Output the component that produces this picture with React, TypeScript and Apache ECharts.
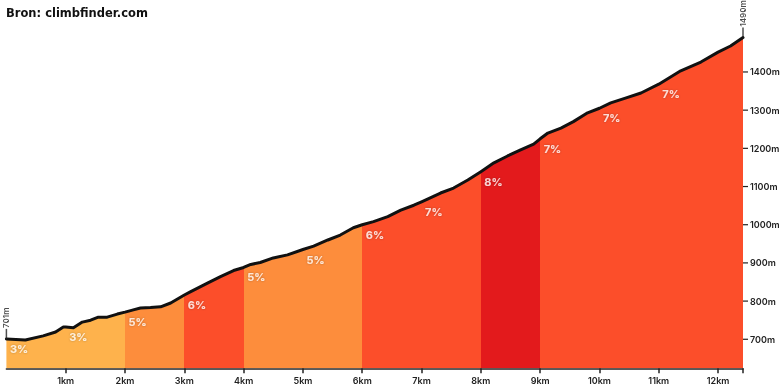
import React, { useEffect, useRef } from "react";
import * as echarts from "echarts";

const titleText = "Bron: climbfinder.com";

const distKm = [
  0, 0.32, 0.62, 0.83, 0.96, 1.0, 1.13, 1.28, 1.42, 1.55, 1.7, 1.87, 2.0, 2.14, 2.26, 2.43, 2.6, 2.77,
  3.0, 3.1, 3.39, 3.61, 3.83, 4.0, 4.12, 4.28, 4.5, 4.74, 5.0, 5.18, 5.42, 5.63, 5.85, 6.0, 6.19, 6.43,
  6.65, 6.87, 7.0, 7.32, 7.54, 7.78, 8.0, 8.22, 8.45, 8.67, 8.89, 9.0, 9.13, 9.35, 9.56, 9.8, 10.0,
  10.19, 10.45, 10.7, 11.0, 11.37, 11.71, 12.0, 12.21, 12.42,
];
const elevM = [
  701, 698, 709, 719, 732, 732, 730, 745, 750, 758, 758, 766, 771, 777, 782, 783, 785, 795,
  816, 824, 847, 864, 880, 888, 896, 901, 913, 921, 935, 944, 960, 973, 992, 1000, 1008, 1021,
  1038, 1051, 1060, 1083, 1096, 1117, 1139, 1162, 1180, 1196, 1211, 1225, 1240, 1253, 1270, 1293, 1305,
  1319, 1332, 1345, 1368, 1403, 1426, 1452, 1468, 1490,
];
const gradePct = [3, 3, 5, 6, 5, 5, 6, 7, 8, 7, 7, 7];
const kmTicks = [1, 2, 3, 4, 5, 6, 7, 8, 9, 10, 11, 12];
const elevTicks = [700, 800, 900, 1000, 1100, 1200, 1300, 1400];

function gradeColor(g: number) {
  if (g <= 3) return "#FEB24C";
  if (g <= 5) return "#FD8D3C";
  if (g <= 7) return "#FC4E2A";
  return "#E31A1C";
}

export default function App() {
  const ref = useRef<HTMLDivElement>(null);
  useEffect(() => {
    document.body.style.margin = "0";
    const chart = echarts.init(ref.current!, null, { renderer: "svg" });
    const totalKm = distKm[distKm.length - 1];
    const yMin = 624;
    const yMax = elevM[elevM.length - 1];
    const profile = distKm.map((d, i) => [d, elevM[i]]);
    const elevAt = (km: number) => {
      const idx = distKm.indexOf(km);
      return elevM[idx];
    };
    const pieces = gradePct.map((g, i) =>
      i === gradePct.length - 1
        ? { gte: i, lte: totalKm, color: gradeColor(g) }
        : { gte: i, lt: i + 1, color: gradeColor(g) }
    );
    const font = "Inter, 'Open Sans', sans-serif";
    chart.setOption({
      animation: false,
      title: {
        text: titleText,
        left: 1,
        top: 2,
        textStyle: { fontFamily: "'DejaVu Sans', Verdana, sans-serif", fontWeight: "bold", fontSize: 11.5, color: "#111" },
      },
      grid: { left: 6.4, right: 37, top: 37.6, bottom: 21.7, outerBoundsMode: "none", containLabel: false },
      visualMap: {
        type: "piecewise",
        show: false,
        dimension: 0,
        seriesIndex: 0,
        pieces,
      },
      xAxis: {
        type: "value",
        min: 0,
        max: totalKm,
        interval: 1,
        splitLine: { show: false },
        axisLine: { show: true, lineStyle: { color: "#222", width: 1.5 } },
        axisTick: { show: true, length: 5, lineStyle: { color: "#222", width: 1.5 }, customValues: [...kmTicks, totalKm] },
        axisLabel: {
          customValues: kmTicks,
          formatter: (v: number) => `${v}km`,
          fontFamily: font,
          fontSize: 9,
          fontWeight: 600,
          color: "#222",
          margin: 8,
        },
      },
      yAxis: {
        type: "value",
        position: "right",
        min: yMin,
        max: yMax,
        splitLine: { show: false },
        axisLine: { show: false },
        axisTick: { show: false },
        axisLabel: {
          customValues: elevTicks,
          formatter: (v: number) => `${v}m`,
          fontFamily: font,
          fontSize: 9,
          fontWeight: 600,
          color: "#222",
          margin: 7,
        },
      },
      series: [
        {
          type: "line",
          data: profile,
          symbol: "none",
          lineStyle: { width: 0 },
          areaStyle: { opacity: 1, origin: "start" },
          z: 1,
        },
        {
          type: "line",
          data: profile,
          symbol: "none",
          lineStyle: { width: 3, color: "#111", cap: "round", join: "round" },
          z: 3,
        },
        {
          type: "scatter",
          data: gradePct.map((g, i) => [i, elevAt(i), g]),
          symbolSize: 1,
          itemStyle: { color: "rgba(0,0,0,0)" },
          z: 4,
          label: {
            show: true,
            position: "right",
            distance: 3,
            offset: [0, 10],
            formatter: (p: any) => `${p.value[2]}%`,
            fontFamily: font,
            fontSize: 11,
            fontWeight: 700,
            color: "#fff",
            textShadowColor: "rgba(0,0,0,0.35)",
            textShadowBlur: 2,
          },
        },
        {
          type: "scatter",
          data: [profile[0], profile[profile.length - 1]],
          symbol: "rect",
          symbolSize: [1.5, 10],
          symbolOffset: [0, -5],
          itemStyle: { color: "#222" },
          z: 5,
          label: {
            show: true,
            position: "top",
            distance: 1,
            rotate: 90,
            align: "left",
            verticalAlign: "middle",
            formatter: (p: any) => `${p.value[1]}m`,
            fontFamily: font,
            fontSize: 8,
            fontWeight: 600,
            color: "#222",
          },
        },
        {
          type: "custom",
          data: elevTicks.map((v) => [totalKm, v]),
          clip: false,
          silent: true,
          z: 5,
          renderItem: (params: any, api: any) => {
            const p = api.coord([api.value(0), api.value(1)]);
            return {
              type: "line",
              shape: { x1: p[0], y1: p[1], x2: p[0] + 5, y2: p[1] },
              style: { stroke: "#222", lineWidth: 1.2 },
            };
          },
        },
      ],
    });
    return () => chart.dispose();
  }, []);
  return <div ref={ref} style={{ position: "fixed", left: 0, top: 0, width: 780, height: 390 }} />;
}
